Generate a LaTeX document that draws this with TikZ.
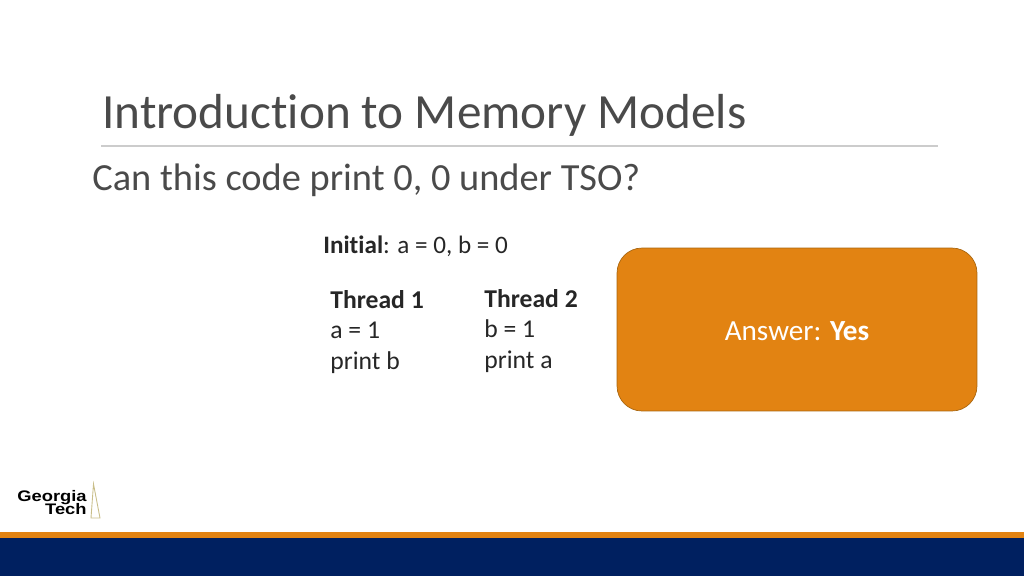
\documentclass[tikz,border=0pt]{standalone}
\usepackage{fontspec}
\setmainfont[Ligatures=NoCommon]{Carlito}
\newfontfamily\logofont{Liberation Sans}
\definecolor{gtorange}{HTML}{E28312}
\definecolor{gtedge}{HTML}{A9660F}
\definecolor{gtnavy}{HTML}{002060}
\definecolor{titlegray}{HTML}{4A4A4A}
\definecolor{towergold}{HTML}{C9BE8A}
\begin{document}
\begin{tikzpicture}[x=0.02cm, y=-0.02cm, title style/.style={anchor=west, inner sep=0, text=titlegray, font=\fontsize{28}{32}\selectfont}, sub style/.style={anchor=west, inner sep=0, text=titlegray, font=\fontsize{21.85}{26}\selectfont}, code style/.style={anchor=north west, inner sep=0, align=left, text=black!85, font=\fontsize{14.6}{17.4}\selectfont}, answer style/.style={draw=gtedge, fill=gtorange, rounded corners=0.5cm, minimum width=7.2cm, minimum height=3.26cm, inner sep=0, text=white, font=\fontsize{16.6}{19}\selectfont}, logo style/.style={anchor=base east, inner sep=0, font=\logofont\bfseries\fontsize{8.7}{9}\selectfont}]
	\useasboundingbox (0, 0) rectangle (1024, 576);
	\node[title style] (T1) at (102, 115) {Introduction to Memory Models};
	\coordinate (R1) at (101, 146);
	\coordinate (R2) at (938, 146);
	\draw[black!20, line width=0.6pt] (R1) -- (R2);
	\node[sub style] (T2) at (92, 180) {Can this code print 0, 0 under TSO?};
	\node[anchor=west, inner sep=0, text=black!85, font=\fontsize{14.3}{17}\selectfont] (S1) at (323, 246) {\textbf{Initial}: a = 0, b = 0};
	\node[code style] (S2) at (330, 290) {\textbf{Thread 1}\\a = 1\\print b};
	\node[code style] (S3) at (484, 289) {\textbf{Thread 2}\\b = 1\\print a};
	\node[answer style] (A1) at (797, 329.5) {\raisebox{0pt}[12.7pt][0pt]{Answer: \textbf{Yes}}};
	% logo and bars
	\node[logo style] (L1) at (87, 501) {\scalebox{1.2}[1]{Georgia}};
	\node[logo style] (L2) at (87, 514) {\scalebox{1.2}[1]{Tech}};
	\draw[towergold, line width=0.5pt] (93.5, 484) -- (91, 518) -- (100, 518) -- cycle;
	\fill[gtorange] (0, 532) rectangle (1024, 538);
	\fill[gtnavy] (0, 538) rectangle (1024, 576);
\end{tikzpicture}
\end{document}
